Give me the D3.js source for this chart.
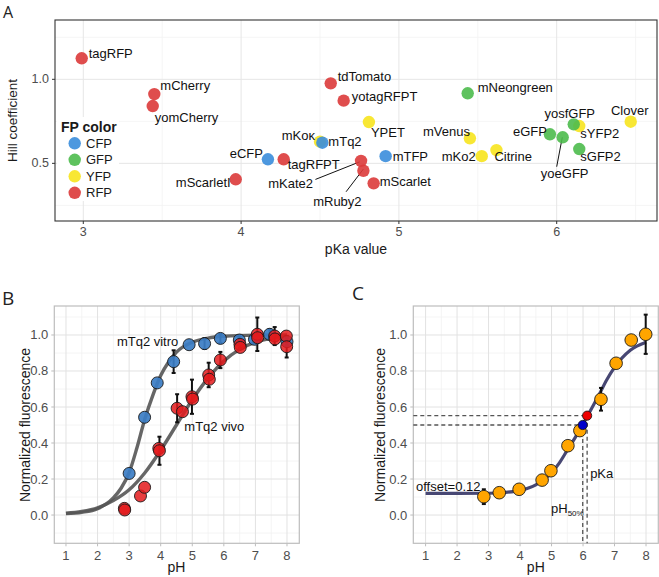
<!DOCTYPE html>
<html><head><meta charset="utf-8">
<script src="https://cdn.jsdelivr.net/npm/d3@7"></script>
<style>
body{margin:0;background:#fff}
svg{display:block}
text{font-family:"Liberation Sans",Arial,Helvetica,sans-serif}
</style>
</head><body>
<svg id="chart" width="659" height="577"></svg>
<script>
// ---------------- Panel A data ----------------
const fpNames = ["tagRFP","mCherry","yomCherry","eCFP","tagRFPT","mScarletI","mKoκ","mTq2","tdTomato","yotagRFPT","YPET","mTFP","mKate2","mRuby2","mScarlet","mNeongreen","mVenus","mKo2","Citrine","eGFP","yoeGFP","sYFP2","yosfGFP","sGFP2","Clover"];
const fpPKa   = [2.99,3.45,3.44,4.17,4.27,3.966,4.50,4.515,4.568,4.65,4.81,4.916,4.76,4.775,4.84,5.436,5.45,5.525,5.618,5.957,6.038,6.143,6.108,6.143,6.469];
const fpHill  = [1.125,0.912,0.841,0.524,0.524,0.405,0.629,0.623,0.976,0.873,0.746,0.543,0.515,0.456,0.381,0.917,0.649,0.543,0.579,0.673,0.655,0.722,0.732,0.585,0.748];
const fpType  = ["RFP","RFP","RFP","CFP","RFP","RFP","YFP","CFP","RFP","RFP","YFP","CFP","RFP","RFP","RFP","GFP","YFP","YFP","YFP","GFP","GFP","YFP","GFP","GFP","YFP"];
const fpCategories = ["CFP","GFP","YFP","RFP"];
const aXTicks = [3,4,5,6];
const aYTicks = [0.5,1.0];

// ---------------- Panel B data ----------------
const vitroPH  = [3.0,3.49,3.89,4.41,4.9,5.39,5.89,6.49,6.97,7.45,8.0];
const vitroF   = [0.231,0.543,0.734,0.852,0.946,0.952,0.981,0.972,0.976,1.004,0.963];
const vitroErr = [0,0,0,0.063,0,0.03,0.025,0.02,0.02,0.028,0.02];
const vivoPH   = [2.85,2.86,3.36,3.49,3.94,3.96,4.52,4.69,4.99,5.01,5.52,5.54,5.89,6.51,6.52,7.06,7.07,7.61,7.62,7.98,7.99];
const vivoF    = [0.037,0.028,0.106,0.154,0.370,0.357,0.593,0.574,0.657,0.644,0.778,0.754,0.861,0.948,0.931,1.004,0.985,0.994,0.978,0.994,0.935];
const vivoErr  = [0,0,0,0,0,0.078,0.078,0,0.095,0,0.068,0,0.045,0.02,0,0.093,0,0.05,0,0,0.06];
const vitroCurvePH = [1,1.5,2,2.5,2.75,3,3.25,3.5,3.75,4,4.25,4.5,5,5.5,6,7,8];
const vitroCurveF  = [0.008,0.015,0.035,0.095,0.15,0.235,0.375,0.535,0.665,0.775,0.85,0.905,0.96,0.983,0.993,0.999,1.0];
const vivoCurvePH  = [1,1.5,2,2.5,3,3.5,4,4.5,5,5.5,6,6.5,7,7.5,8];
const vivoCurveF   = [0.01,0.02,0.04,0.08,0.14,0.235,0.36,0.5,0.64,0.76,0.855,0.92,0.96,0.982,0.992];

// ---------------- Panel C data ----------------
const cPH  = [2.85,3.34,3.97,4.70,4.98,5.52,5.90,6.57,7.05,7.53,7.99];
const cF   = [0.102,0.124,0.143,0.194,0.246,0.385,0.469,0.643,0.843,0.972,1.004];
const cErr = [0.041,0,0,0,0,0,0,0.063,0,0,0.109];
const cCurvePH = [1,2,3,3.5,4,4.5,5,5.25,5.5,5.75,6,6.25,6.5,6.75,7,7.5,8];
const cCurveF  = [0.12,0.12,0.121,0.125,0.137,0.168,0.235,0.29,0.36,0.43,0.505,0.585,0.665,0.75,0.82,0.915,0.96];
const ph50 = [5.99, 0.5];
const pKaPt = [6.13, 0.552];
const offsetValue = 0.12;

const phTicks = [1,2,3,4,5,6,7,8];
const fTicks = [0,0.2,0.4,0.6,0.8,1.0];

// ---------------- styling / layout ----------------
const colorOf = {CFP:"#3a8ddc", GFP:"#4cbb4c", YFP:"#f7e41e", RFP:"#dc3a3a"};
const labelPos = {  // [dx, dy, anchor]
  "tagRFP":[7,-5,"start"],"mCherry":[6,-9,"start"],"yomCherry":[2,11,"start"],"eCFP":[-5,-6,"end"],
  "tagRFPT":[4,5,"start"],"mScarletI":[-5,3,"end"],"mKoκ":[-5,-6,"end"],"mTq2":[6,-1,"start"],
  "tdTomato":[7,-7,"start"],"yotagRFPT":[8,-4,"start"],"YPET":[2,10,"start"],"mTFP":[7,0,"start"],
  "mKate2":[-48,22.6,"end"],"mRuby2":[-26,30.5,"middle"],"mScarlet":[6,-2,"start"],"mNeongreen":[10,-6,"start"],
  "mVenus":[0,-7,"end"],"mKo2":[-6,0,"end"],"Citrine":[-2,6,"start"],"eGFP":[-3,-3,"end"],
  "yoeGFP":[2,36,"middle"],"yosfGFP":[-4,-11,"middle"],"sYFP2":[1,7,"start"],"sGFP2":[1,7,"start"],"Clover":[-1,-11,"middle"]
};
const leaders = {"mKate2":[-45.6,18.6,-1.3,1],"mRuby2":[-17.3,21,0,-1.7],"yoeGFP":[-6,29.4,-0.4,0]};

const svg = d3.select("#chart");

function minorOf(ticks, domain){
  const step = ticks.length>1 ? ticks[1]-ticks[0] : 1;
  const out=[];
  for(let i=-1;i<ticks.length;i++){
    const v = (i<0? ticks[0]-step/2 : ticks[i]+step/2);
    if(v>Math.min(...domain) && v<Math.max(...domain)) out.push(v);
  }
  return out;
}

function frame(x, y, xt, yt, st){
  const [xl,xr]=x.range(), [yb,yt0]=y.range();
  const g = svg.append("g");
  const xm = minorOf(xt, x.domain()), ym = minorOf(yt, y.domain());
  g.selectAll(null).data(xm).join("line").attr("x1",d=>x(d)).attr("x2",d=>x(d)).attr("y1",yt0).attr("y2",yb)
    .attr("stroke",st.minor).attr("stroke-width",st.minorW);
  g.selectAll(null).data(ym).join("line").attr("y1",d=>y(d)).attr("y2",d=>y(d)).attr("x1",xl).attr("x2",xr)
    .attr("stroke",st.minor).attr("stroke-width",st.minorW);
  g.selectAll(null).data(xt).join("line").attr("x1",d=>x(d)).attr("x2",d=>x(d)).attr("y1",yt0).attr("y2",yb)
    .attr("stroke",st.major).attr("stroke-width",st.majorW);
  g.selectAll(null).data(yt).join("line").attr("y1",d=>y(d)).attr("y2",d=>y(d)).attr("x1",xl).attr("x2",xr)
    .attr("stroke",st.major).attr("stroke-width",st.majorW);
  g.selectAll(null).data(xt).join("line").attr("x1",d=>x(d)).attr("x2",d=>x(d)).attr("y1",yb).attr("y2",yb+3)
    .attr("stroke",st.border).attr("stroke-width",1);
  g.selectAll(null).data(yt).join("line").attr("y1",d=>y(d)).attr("y2",d=>y(d)).attr("x1",xl-3).attr("x2",xl)
    .attr("stroke",st.border).attr("stroke-width",1);
  g.selectAll(null).data(xt).join("text").attr("x",d=>x(d)).attr("y",yb+st.xLabOff)
    .attr("text-anchor","middle").attr("dominant-baseline","central").attr("font-size",st.tickSize)
    .attr("fill","#4d4d4d").text(d=>st.xfmt(d));
  g.selectAll(null).data(yt).join("text").attr("x",xl-6).attr("y",d=>y(d))
    .attr("text-anchor","end").attr("dominant-baseline","central").attr("font-size",st.tickSize)
    .attr("fill","#4d4d4d").text(d=>st.yfmt(d));
  return g;
}
function border(x,y,st){
  const [xl,xr]=x.range(), [yb,yt0]=y.range();
  svg.append("rect").attr("x",xl).attr("y",yt0).attr("width",xr-xl).attr("height",yb-yt0)
    .attr("fill","none").attr("stroke",st.border).attr("stroke-width",st.borderW);
}

// ======== Panel A ========
const xA = d3.scaleLinear().domain([2.8207,6.6356]).range([55,657]);
const yA = d3.scaleLinear().domain([0.157,1.353]).range([221,20]);
const stA = {minor:"#f3f3f3",minorW:0.8,major:"#e6e6e6",majorW:1,border:"#333333",borderW:1.1,
  tickSize:12.5,xLabOff:11,xfmt:d3.format("d"),yfmt:d3.format(".1f")};
frame(xA,yA,aXTicks,aYTicks,stA);

svg.append("text").attr("x",3).attr("y",18).attr("font-size",16).style("font-family","'Open Sans',sans-serif").attr("fill","#222").text("A");
svg.append("text").attr("transform","translate(12,120.5) rotate(-90)").attr("text-anchor","middle")
  .attr("dominant-baseline","central").attr("font-size",13.5).attr("fill","#1a1a1a").text("Hill coefficient");
svg.append("text").attr("x",356).attr("y",249).attr("text-anchor","middle").attr("dominant-baseline","central")
  .attr("font-size",14).attr("fill","#1a1a1a").text("pKa value");

// legend
const lg = svg.append("g");
lg.append("rect").attr("x",57).attr("y",117).attr("width",62).attr("height",84).attr("fill","#fff");
lg.append("text").attr("x",61).attr("y",126.7).attr("dominant-baseline","central").attr("font-size",14)
  .attr("font-weight","bold").attr("fill","#1a1a1a").text("FP color");
lg.selectAll("circle").data(fpCategories).join("circle").attr("cx",74.7).attr("cy",(d,i)=>143.3+i*16.5)
  .attr("r",6.2).attr("fill",d=>colorOf[d]).attr("fill-opacity",0.9);
lg.selectAll("text.li").data(fpCategories).join("text").attr("class","li").attr("x",86).attr("y",(d,i)=>143.3+i*16.5)
  .attr("dominant-baseline","central").attr("font-size",13).attr("fill","#1a1a1a").text(d=>d);

const fp = fpNames.map((n,i)=>({name:n,pka:fpPKa[i],hill:fpHill[i],type:fpType[i]}));
svg.append("g").selectAll("line").data(fp.filter(d=>leaders[d.name])).join("line")
  .attr("x1",d=>xA(d.pka)+leaders[d.name][0]).attr("y1",d=>yA(d.hill)+leaders[d.name][1])
  .attr("x2",d=>xA(d.pka)+leaders[d.name][2]).attr("y2",d=>yA(d.hill)+leaders[d.name][3])
  .attr("stroke","#111").attr("stroke-width",1);
svg.append("g").selectAll("circle").data(fp).join("circle")
  .attr("cx",d=>xA(d.pka)).attr("cy",d=>yA(d.hill)).attr("r",6.2)
  .attr("fill",d=>colorOf[d.type]).attr("fill-opacity",0.9);
svg.append("g").selectAll("text").data(fp).join("text")
  .attr("x",d=>xA(d.pka)+labelPos[d.name][0]).attr("y",d=>yA(d.hill)+labelPos[d.name][1])
  .attr("text-anchor",d=>labelPos[d.name][2]).attr("dominant-baseline","central")
  .attr("font-size",13).attr("fill","#111").text(d=>d.name);
border(xA,yA,stA);

// ======== Panel B ========
const stB = {minor:"#f1f1f1",minorW:0.8,major:"#e2e2e2",majorW:1,border:"#bdbdbd",borderW:1.2,
  tickSize:13,xLabOff:12.5,xfmt:d3.format("d"),yfmt:d3.format(".1f")};
const xB = d3.scaleLinear().domain([0.63,8.39]).range([54.3,299.3]);
const yB = d3.scaleLinear().domain([-0.157,1.161]).range([543.3,306]);
frame(xB,yB,phTicks,fTicks,stB);
border(xB,yB,stB);
svg.append("text").attr("x",2).attr("y",305).attr("font-size",19).style("font-family","'Open Sans',sans-serif").attr("fill","#222").text("B");
svg.append("text").attr("transform","translate(25,425) rotate(-90)").attr("text-anchor","middle")
  .attr("dominant-baseline","central").attr("font-size",14).attr("fill","#1a1a1a").text("Normalized fluorescence");
svg.append("text").attr("x",xB(4.5)).attr("y",567).attr("text-anchor","middle").attr("dominant-baseline","central")
  .attr("font-size",14).attr("fill","#1a1a1a").text("pH");

const lineB = d3.line().curve(d3.curveMonotoneX);
svg.append("path").attr("d",lineB(vitroCurvePH.map((p,i)=>[xB(p),yB(vitroCurveF[i])])))
  .attr("fill","none").attr("stroke","#555").attr("stroke-opacity",0.9).attr("stroke-width",3.4);
svg.append("path").attr("d",lineB(vivoCurvePH.map((p,i)=>[xB(p),yB(vivoCurveF[i])])))
  .attr("fill","none").attr("stroke","#555").attr("stroke-opacity",0.9).attr("stroke-width",3.4);

function errBars(x,y,ph,f,err){
  const d = ph.map((p,i)=>({p,f:f[i],e:err[i]})).filter(d=>d.e>0);
  const g = svg.append("g").attr("stroke","#111").attr("stroke-width",2);
  g.selectAll("line.v").data(d).join("line").attr("x1",d=>x(d.p)).attr("x2",d=>x(d.p))
    .attr("y1",d=>y(d.f-d.e)).attr("y2",d=>y(d.f+d.e));
  g.selectAll("line.t").data(d).join("line").attr("x1",d=>x(d.p)-2).attr("x2",d=>x(d.p)+2)
    .attr("y1",d=>y(d.f+d.e)).attr("y2",d=>y(d.f+d.e));
  g.selectAll("line.b").data(d).join("line").attr("x1",d=>x(d.p)-2).attr("x2",d=>x(d.p)+2)
    .attr("y1",d=>y(d.f-d.e)).attr("y2",d=>y(d.f-d.e));
}
errBars(xB,yB,vitroPH,vitroF,vitroErr);
errBars(xB,yB,vivoPH,vivoF,vivoErr);
svg.append("g").selectAll("circle").data(vitroPH).join("circle")
  .attr("cx",d=>xB(d)).attr("cy",(d,i)=>yB(vitroF[i])).attr("r",6)
  .attr("fill","#3b7dc4").attr("fill-opacity",0.92).attr("stroke","#1a1a1a").attr("stroke-width",0.9);
svg.append("g").selectAll("circle").data(vivoPH).join("circle")
  .attr("cx",d=>xB(d)).attr("cy",(d,i)=>yB(vivoF[i])).attr("r",6)
  .attr("fill","#e41a1c").attr("fill-opacity",0.85).attr("stroke","#1a1a1a").attr("stroke-width",0.9);
svg.append("text").attr("x",178.3).attr("y",341.7).attr("text-anchor","end").attr("dominant-baseline","central")
  .attr("font-size",13).attr("fill","#111").text("mTq2 vitro");
svg.append("text").attr("x",184.3).attr("y",426.7).attr("dominant-baseline","central")
  .attr("font-size",13).attr("fill","#111").text("mTq2 vivo");

// ======== Panel C ========
const xC = d3.scaleLinear().domain([0.61,8.39]).range([413.3,658.3]);
const yC = d3.scaleLinear().domain([-0.157,1.161]).range([543.3,306]);
frame(xC,yC,phTicks,fTicks,stB);
border(xC,yC,stB);
svg.append("text").attr("x",352).attr("y",300).attr("font-size",19).style("font-family","'Open Sans',sans-serif").attr("fill","#222").text("C");
svg.append("text").attr("transform","translate(380,425) rotate(-90)").attr("text-anchor","middle")
  .attr("dominant-baseline","central").attr("font-size",14).attr("fill","#1a1a1a").text("Normalized fluorescence");
svg.append("text").attr("x",xC(4.5)).attr("y",567).attr("text-anchor","middle").attr("dominant-baseline","central")
  .attr("font-size",14).attr("fill","#1a1a1a").text("pH");

const dg = svg.append("g").attr("stroke","#555").attr("stroke-width",1.3).attr("stroke-dasharray","4,3").attr("fill","none");
[ph50,pKaPt].forEach(pt=>{
  dg.append("line").attr("x1",xC.range()[0]).attr("x2",xC(pt[0])).attr("y1",yC(pt[1])).attr("y2",yC(pt[1]));
  dg.append("line").attr("x1",xC(pt[0])).attr("x2",xC(pt[0])).attr("y1",yC(pt[1])).attr("y2",yC.range()[0]);
});
svg.append("path").attr("d",lineB(cCurvePH.map((p,i)=>[xC(p),yC(cCurveF[i])])))
  .attr("fill","none").attr("stroke","#3d3d6b").attr("stroke-opacity",0.95).attr("stroke-width",3.2);
errBars(xC,yC,cPH,cF,cErr);
svg.append("g").selectAll("circle").data(cPH).join("circle")
  .attr("cx",d=>xC(d)).attr("cy",(d,i)=>yC(cF[i])).attr("r",6.3)
  .attr("fill","#ffa500").attr("stroke","#1a1a1a").attr("stroke-width",0.9);
svg.append("circle").attr("cx",xC(ph50[0])).attr("cy",yC(ph50[1])).attr("r",4.6)
  .attr("fill","#0000cc").attr("stroke","#111").attr("stroke-width",0.8);
svg.append("circle").attr("cx",xC(pKaPt[0])).attr("cy",yC(pKaPt[1])).attr("r",4.6)
  .attr("fill","#ee0000").attr("stroke","#111").attr("stroke-width",0.8);
svg.append("text").attr("x",416).attr("y",486.7).attr("dominant-baseline","central")
  .attr("font-size",13).attr("fill","#111").text("offset=" + offsetValue.toFixed(2));
svg.append("text").attr("x",xC(pKaPt[0])+3).attr("y",473.3).attr("dominant-baseline","central")
  .attr("font-size",13).attr("fill","#111").text("pKa");
const t50 = svg.append("text").attr("x",551).attr("y",513).attr("font-size",13).attr("fill","#111");
t50.append("tspan").text("pH");
t50.append("tspan").attr("font-size",8).attr("dy",3).text("50%");
</script>
</body></html>
